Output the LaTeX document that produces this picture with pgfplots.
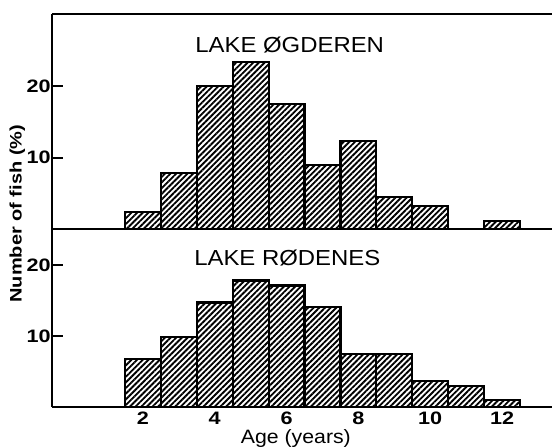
\documentclass[border=0pt]{standalone}
\usepackage{pgfplots}
\pgfplotsset{compat=1.18}
\usepackage{fontspec}
\setmainfont{Liberation Sans}
\newfontfamily\widefont{Liberation Sans}[FakeStretch=1.2]
\newfontfamily\titlefont{Liberation Sans}[FakeStretch=1.1]
\usetikzlibrary{patterns.meta}

\pgfplotstableread{
age val
2 2.4
3 7.9
4 20.0
5 23.3
6 17.5
7 9.0
8 12.3
9 4.5
10 3.3
12 1.1
}\ogderen

\pgfplotstableread{
age val
2 6.7
3 9.8
4 14.7
5 17.8
6 17.1
7 14.1
8 7.4
9 7.5
10 3.7
11 3.0
12 1.0
}\rodenes

\begin{document}
\begin{tikzpicture}
\useasboundingbox (-39pt,-29.25pt) rectangle (375pt,305.25pt);
\pgfplotsset{
  hatchbar/.style={ybar, bar width=1, draw=black, line width=1.6pt,
    pattern={Lines[angle=45, distance=3pt, line width=1.4pt]}},
  common/.style={
    scale only axis, width=375pt,
    xmin=-0.53, xmax=13.39, ymin=0,
    axis line style={line width=1.6pt},
    /pgf/number format/assume math mode=true,
    ticklabel style={font=\widefont\bfseries\fontsize{13.5}{13.5}\selectfont},
    yticklabel style={xshift=2.5pt},
    ytick align=inside,
    ytick style={line width=1.6pt, black},
    major tick length=8.25pt,
    clip=false,
  }
}
% lower panel: Lake Rodenes
\begin{axis}[common,
  at={(0,0)}, anchor=south west,
  height=133.3pt, ymax=25,
  axis x line*=bottom, axis y line*=left,
  ytick={10,20},
  xtick={2,4,6,8,10,12},
  xtick style={draw=none},
  xticklabel style={anchor=north, yshift=-0.5pt},
  extra x ticks={0.5,1.5,2.5,3.5,4.5,5.5,6.5,7.5,8.5,9.5,10.5,11.5,12.5},
  extra x tick labels={},
  extra x tick style={tick align=outside, major tick length=4.5pt,
    tick style={line width=1.4pt, black}},
]
\addplot[hatchbar] table[x=age, y=val] {\rodenes};
\node[anchor=west, font=\titlefont\fontsize{16.3}{16.3}\selectfont] at (axis cs:3.3,21.0) {LAKE RØDENES};
\node[anchor=base, font=\titlefont\fontsize{14.5}{14.5}\selectfont] at (axis cs:6.26,-5.1) {Age (years)};
\end{axis}
% upper panel: Lake Ogderen
\begin{axis}[common,
  at={(0,133.3pt)}, anchor=south west,
  height=161.25pt, ymax=30,
  axis x line*=box, axis y line*=left,
  ytick={10,20},
  xtick=\empty,
]
\addplot[hatchbar] table[x=age, y=val] {\ogderen};
\node[anchor=west, font=\titlefont\fontsize{16.3}{16.3}\selectfont] at (axis cs:3.33,25.7) {LAKE ØGDEREN};
\end{axis}
\node[rotate=90, font=\widefont\bfseries\fontsize{12.5}{12.5}\selectfont] at (-26pt,145pt) {Number of fish (\%)};
\end{tikzpicture}
\end{document}
